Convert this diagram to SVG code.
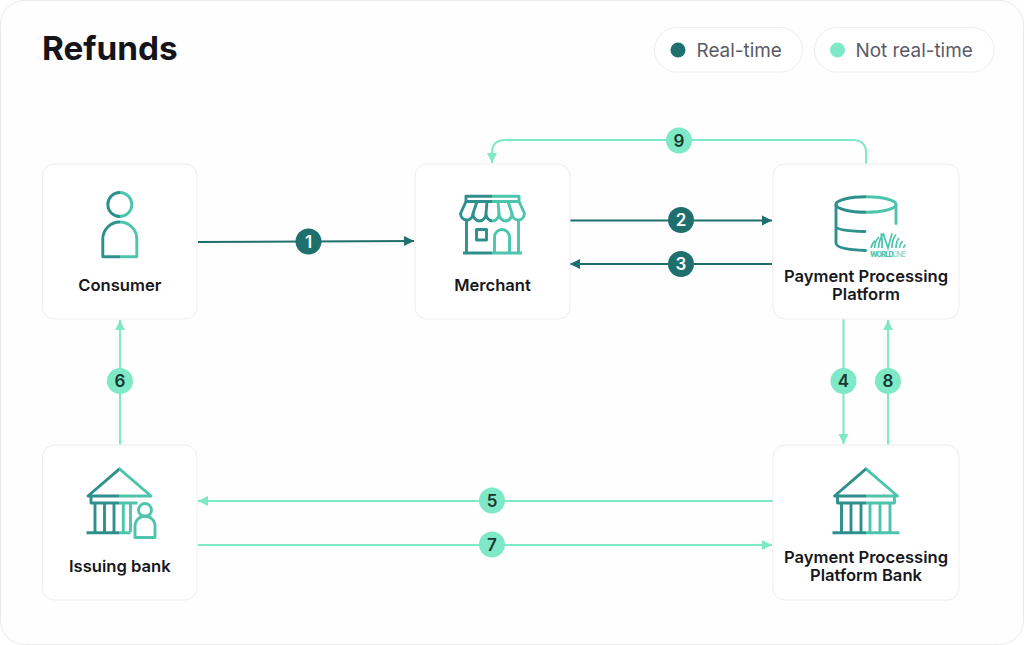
<svg xmlns="http://www.w3.org/2000/svg" width="1024" height="645" viewBox="0 0 1024 645">
<style>
text{font-family:Inter,"Liberation Sans",sans-serif}
.card{fill:#fff;stroke:#eeeeef;stroke-width:1}
.lbl{font-size:16.600px;font-weight:600;fill:#17171c;text-anchor:middle}
.ic{fill:none;stroke:url(#g);stroke-width:2.900;stroke-linejoin:round}
.d{stroke:#1f6f6d;stroke-width:2;fill:none}
.l{stroke:#7fe8c6;stroke-width:2;fill:none}
.cd{fill:#1f6f6d}.cl{fill:#7fe8c6}
.n{font-size:17px;font-weight:600;text-anchor:middle}
.nd{fill:#fff}.nl{fill:#17382f}
.leg{font-size:18.900px;fill:#5a5a66}
</style>
<defs>
<linearGradient id="g" gradientUnits="userSpaceOnUse" x1="-1" x2="1" y1="0" y2="0"><stop offset="0.5" stop-color="#2e908c"/><stop offset="0.5" stop-color="#4cc5ac"/></linearGradient>
<marker id="ad" markerUnits="userSpaceOnUse" markerWidth="11" markerHeight="11" refX="10" refY="5.500" orient="auto"><path d="M0 0.500L10 5.500L0 10.500Z" fill="#1f6f6d"/></marker>
<marker id="al" markerUnits="userSpaceOnUse" markerWidth="11" markerHeight="11" refX="10" refY="5.500" orient="auto"><path d="M0 0.500L10 5.500L0 10.500Z" fill="#7fe8c6"/></marker>
</defs>
<rect x="0.500" y="0.500" width="1023" height="644" rx="24" fill="#fefefe" stroke="#e9e9ee"/>
<text x="42" y="60" font-size="33.300" font-weight="700" fill="#14141a">Refunds</text>
<g id="legend">
<rect x="654.500" y="27.500" width="148" height="44.500" rx="22.250" fill="#fff" stroke="#eeeeef"/>
<circle cx="678" cy="50" r="7.500" class="cd"/>
<text x="696.500" y="57" class="leg">Real-time</text>
<rect x="814.500" y="27.500" width="179.500" height="44.500" rx="22.250" fill="#fff" stroke="#eeeeef"/>
<circle cx="837.500" cy="50" r="7.500" class="cl"/>
<text x="855.500" y="57" class="leg">Not real-time</text>
</g>
<g id="connectors">
<path class="d" d="M198 242L414 241" marker-end="url(#ad)"/>
<path class="d" d="M570 220.500H772" marker-end="url(#ad)"/>
<path class="d" d="M772 264H570" marker-end="url(#ad)"/>
<path class="l" d="M866 164V153Q866 140 853 140H505Q492 140 492 153V163" marker-end="url(#al)"/>
<path class="l" d="M843.500 319V444" marker-end="url(#al)"/>
<path class="l" d="M888 445V320" marker-end="url(#al)"/>
<path class="l" d="M120 445V320" marker-end="url(#al)"/>
<path class="l" d="M773 501H198" marker-end="url(#al)"/>
<path class="l" d="M198 545H772" marker-end="url(#al)"/>
<g id="b1"><circle cx="308.500" cy="241.500" r="13" class="cd"/><text x="308.500" y="247.600" class="n nd">1</text></g>
<g id="b2"><circle cx="681" cy="220" r="13" class="cd"/><text x="681" y="226.100" class="n nd">2</text></g>
<g id="b3"><circle cx="681" cy="264" r="13" class="cd"/><text x="681" y="270.100" class="n nd">3</text></g>
<g id="b9"><circle cx="679" cy="140.500" r="13" class="cl"/><text x="679" y="146.600" class="n nl">9</text></g>
<g id="b4"><circle cx="843.500" cy="381" r="13" class="cl"/><text x="843.500" y="387.100" class="n nl">4</text></g>
<g id="b8"><circle cx="888" cy="381" r="13" class="cl"/><text x="888" y="387.100" class="n nl">8</text></g>
<g id="b6"><circle cx="120" cy="381" r="13" class="cl"/><text x="120" y="387.100" class="n nl">6</text></g>
<g id="b5"><circle cx="492" cy="500.500" r="13" class="cl"/><text x="492" y="506.600" class="n nl">5</text></g>
<g id="b7"><circle cx="492" cy="544.500" r="13" class="cl"/><text x="492" y="550.600" class="n nl">7</text></g>
</g>
<g id="consumer">
<rect class="card" x="42.500" y="164" width="154.500" height="155" rx="12"/>
<g class="ic" transform="translate(119.800 0)">
<circle cx="0" cy="204.500" r="12"/>
<path d="M-17 256.800V239A17 17 0 0 1 17 239V256.800Z"/>
</g>
<text class="lbl" x="119.800" y="291">Consumer</text>
</g>
<g id="merchant">
<rect class="card" x="415" y="164" width="155" height="155" rx="12"/>
<g class="ic" transform="translate(492.500 0)">
<path d="M-26.500 196.200H26.500V201.500H-26.500Z"/>
<path d="M-26.500 201.500L-32 213.500A6.300 7.500 0 0 0 -19.500 213.500A6.500 7.500 0 0 0 -6.500 213.500A6.500 7.500 0 0 0 6.500 213.500A6.500 7.500 0 0 0 19.500 213.500A6.300 7.500 0 0 0 32 213.500L26.500 201.500"/>
<path d="M-19.500 213.500L-15.500 201.500M-6.500 213.500L-5.500 201.500M6.500 213.500L5.500 201.500M19.500 213.500L15.500 201.500"/>
<path d="M-26 220V253M26 220V253M-29.500 253H29.500"/>
<path d="M-16 229.500H-6V240H-16Z"/>
<path d="M2 253V237A7.500 7.500 0 0 1 17 237V253"/>
</g>
<text class="lbl" x="492.500" y="291">Merchant</text>
</g>
<g id="platform">
<rect class="card" x="773" y="164" width="186" height="155" rx="12"/>
<g class="ic" transform="translate(866 0)" stroke-linecap="round">
<ellipse cx="0" cy="204.500" rx="30" ry="7.800"/>
<path d="M-30 204.500V243Q-30 249.500 0 250.500M-30 226Q-30 231 -1 231.500M30 204.500V223.500"/>
</g>
<g id="worldline-logo" fill="none" stroke="#4cc5ac" stroke-width="1.700">
<path d="M871 248Q872 243 875 240.500M874.500 248Q875 241 879 237M878.500 248Q879 239 883 234.500M882 248Q882.500 239 881 233.500M883 233L888 248L892 233.500M896 234.500Q892 239 892 248M899 238Q896 242 896 248M902.500 241Q900 244 899.500 248M905.500 244.500Q904 246 903.500 248"/>
</g>
<text x="870" y="256.500" font-size="7.200" fill="#4cc5ac" font-weight="800" textLength="36">WORLD<tspan font-weight="300">LINE</tspan></text>
<text class="lbl" x="866" y="282">Payment Processing</text>
<text class="lbl" x="866" y="300">Platform</text>
</g>
<g id="issuing-bank">
<rect class="card" x="42.500" y="445" width="154.500" height="155" rx="12"/>
<g class="ic" transform="translate(119.500 0)">
<path d="M-31.500 496L0 468.800L31.500 496Z"/>
<path d="M-28.500 497V503H18"/>
<path d="M-24.500 503V532M-15 503V532M-5.500 503V532M3.800 503V532M11 503V532M-33 532.800H11"/>
</g>
<g class="ic" transform="translate(119.500 0)">
<circle cx="25.500" cy="510" r="6.500"/>
<path d="M15.500 537.500V526A10 10 0 0 1 35.500 526V537.500Z"/>
</g>
<text class="lbl" x="119.800" y="572">Issuing bank</text>
</g>
<g id="processor-bank">
<rect class="card" x="773" y="445" width="186" height="155" rx="12"/>
<g class="ic" transform="translate(866 0)">
<path d="M-31.500 496L0 468.800L31.500 496Z"/>
<path d="M-28.500 497V503H28.500V497"/>
<path d="M-24.500 503V532M-15 503V532M-5 503V532M4 503V532M14 503V532M24 503V532M-33.500 532.800H33.500"/>
</g>
<text class="lbl" x="866" y="563">Payment Processing</text>
<text class="lbl" x="866" y="581">Platform Bank</text>
</g>
</svg>
